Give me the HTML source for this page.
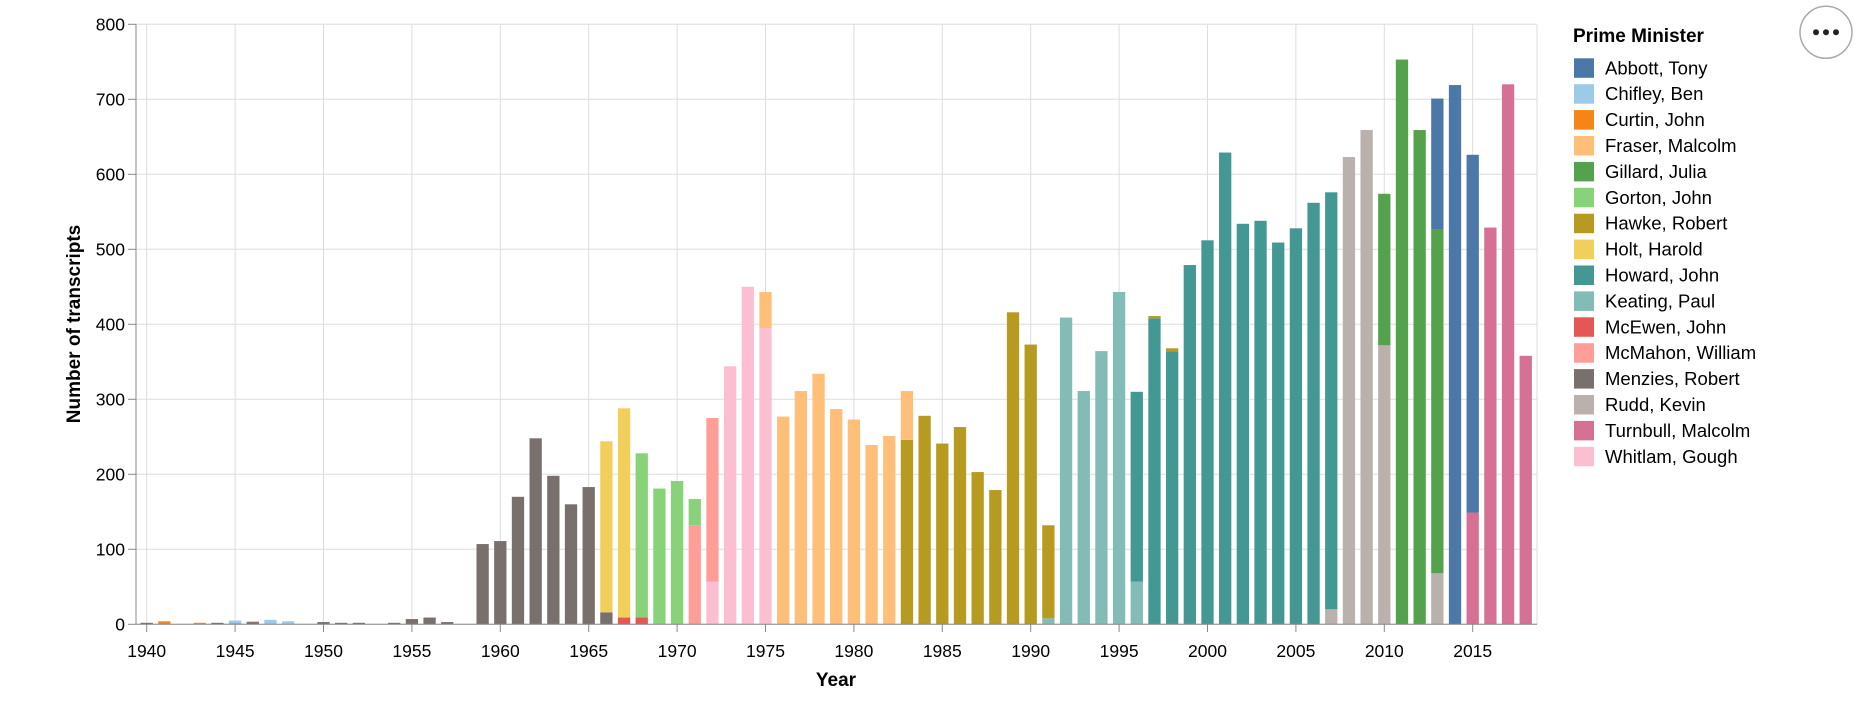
<!DOCTYPE html>
<html><head><meta charset="utf-8"><style>
body{margin:0;background:#fff;}
svg{display:block;font-family:"Liberation Sans",Helvetica,Arial,sans-serif;}
</style></head><body>
<svg id="s" width="1866" height="726" xmlns="http://www.w3.org/2000/svg"></svg>
<script>
const C={Abbott:"#4c78a8",Chifley:"#9ecae9",Curtin:"#f58518",Fraser:"#ffbf79",Gillard:"#54a24b",Gorton:"#88d27a",Hawke:"#b79a20",Holt:"#f2cf5b",Howard:"#439894",Keating:"#83bcb6",McEwen:"#e45756",McMahon:"#ff9d98",Menzies:"#79706e",Rudd:"#bab0ac",Turnbull:"#d67195",Whitlam:"#fcbfd2"};
const D={1940:[["Menzies",2]],1941:[["Curtin",4]],1943:[["Curtin",2]],1944:[["Menzies",2]],1945:[["Menzies",1],["Chifley",4]],1946:[["Menzies",3],["Chifley",1]],1947:[["Chifley",6]],1948:[["Chifley",4]],1950:[["Menzies",3]],1951:[["Menzies",2]],1952:[["Menzies",2]],1954:[["Menzies",2]],1955:[["Menzies",7]],1956:[["Menzies",9]],1957:[["Menzies",3]],
1959:[["Menzies",107]],1960:[["Menzies",111]],1961:[["Menzies",170]],1962:[["Menzies",248]],1963:[["Menzies",198]],1964:[["Menzies",160]],1965:[["Menzies",183]],
1966:[["Menzies",16],["Holt",228]],1967:[["McEwen",9],["Holt",279]],1968:[["McEwen",9],["Gorton",219]],1969:[["Gorton",181]],1970:[["Gorton",191]],
1971:[["McMahon",132],["Gorton",35]],1972:[["Whitlam",57],["McMahon",218]],1973:[["Whitlam",344]],1974:[["Whitlam",450]],1975:[["Whitlam",395],["Fraser",48]],
1976:[["Fraser",277]],1977:[["Fraser",311]],1978:[["Fraser",334]],1979:[["Fraser",287]],1980:[["Fraser",273]],1981:[["Fraser",239]],1982:[["Fraser",251]],
1983:[["Hawke",246],["Fraser",65]],1984:[["Hawke",278]],1985:[["Hawke",241]],1986:[["Hawke",263]],1987:[["Hawke",203]],1988:[["Hawke",179]],1989:[["Hawke",416]],1990:[["Hawke",373]],
1991:[["Keating",8],["Hawke",124]],1992:[["Keating",409]],1993:[["Keating",311]],1994:[["Keating",363],["Hawke",1]],1995:[["Keating",443]],1996:[["Keating",57],["Howard",253]],
1997:[["Howard",408],["Hawke",3]],1998:[["Howard",364],["Hawke",4]],1999:[["Howard",479]],2000:[["Howard",512]],2001:[["Howard",629]],2002:[["Howard",534]],2003:[["Howard",538]],2004:[["Howard",509]],2005:[["Howard",528]],2006:[["Howard",562]],
2007:[["Rudd",20],["Howard",556]],2008:[["Rudd",623]],2009:[["Rudd",659]],2010:[["Rudd",372],["Gillard",202]],2011:[["Gillard",753]],2012:[["Gillard",659]],
2013:[["Rudd",68],["Gillard",458],["Abbott",175]],2014:[["Abbott",719]],2015:[["Turnbull",149],["Abbott",477]],2016:[["Turnbull",529]],2017:[["Turnbull",720]],2018:[["Turnbull",358]]};
const X=y=>146.7+(y-1940)*17.68, Y=v=>624.3-v*0.75;
let h="";
for(let v=0;v<=800;v+=100){h+=`<line x1="136" x2="1537" y1="${Y(v)}" y2="${Y(v)}" stroke="#ddd"/>`;}
for(let y=1940;y<=2015;y+=5){h+=`<line x1="${X(y)}" x2="${X(y)}" y1="24.3" y2="624.3" stroke="#ddd"/>`;}
h+=`<line x1="1537" x2="1537" y1="24.3" y2="624.3" stroke="#ddd"/>`;
for(const yr in D){let b=0;for(const [n,v] of D[yr]){h+=`<rect x="${X(+yr)-6.15}" y="${Y(b+v)}" width="12.3" height="${v*0.75}" fill="${C[n]}"/>`;b+=v;}}
h+=`<line x1="136" x2="1537" y1="624.3" y2="624.3" stroke="#888"/><line x1="136" x2="136" y1="24.3" y2="624.3" stroke="#888"/>`;
for(let v=0;v<=800;v+=100){h+=`<line x1="128" x2="136" y1="${Y(v)}" y2="${Y(v)}" stroke="#888"/><text x="125" y="${Y(v)+6}" font-size="17.5" text-anchor="end">${v}</text>`;}
for(let y=1940;y<=2015;y+=5){h+=`<line x1="${X(y)}" x2="${X(y)}" y1="624.3" y2="632" stroke="#888"/><text x="${X(y)}" y="657" font-size="17.5" text-anchor="middle">${y}</text>`;}
h+=`<text transform="translate(80,324) rotate(-90)" font-size="19" font-weight="bold" text-anchor="middle">Number of transcripts</text>`;
h+=`<text x="836" y="686" font-size="19" font-weight="bold" text-anchor="middle">Year</text>`;
h+=`<text x="1573" y="42" font-size="19" font-weight="bold">Prime Minister</text>`;
const L=[["Abbott, Tony","Abbott"],["Chifley, Ben","Chifley"],["Curtin, John","Curtin"],["Fraser, Malcolm","Fraser"],["Gillard, Julia","Gillard"],["Gorton, John","Gorton"],["Hawke, Robert","Hawke"],["Holt, Harold","Holt"],["Howard, John","Howard"],["Keating, Paul","Keating"],["McEwen, John","McEwen"],["McMahon, William","McMahon"],["Menzies, Robert","Menzies"],["Rudd, Kevin","Rudd"],["Turnbull, Malcolm","Turnbull"],["Whitlam, Gough","Whitlam"]];
L.forEach((l,i)=>{const y=58.3+i*25.9;h+=`<rect x="1574" y="${y}" width="20" height="19.5" fill="${C[l[1]]}"/><text x="1605" y="${y+16}" font-size="18.5">${l[0]}</text>`;});
h+=`<circle cx="1826" cy="32.3" r="26" fill="#fff" stroke="#aaa" stroke-width="1.5"/>`;
[1816,1826,1836].forEach(x=>h+=`<circle cx="${x}" cy="32.3" r="3" fill="#222"/>`);
document.getElementById("s").innerHTML=h;
</script>
</body></html>
